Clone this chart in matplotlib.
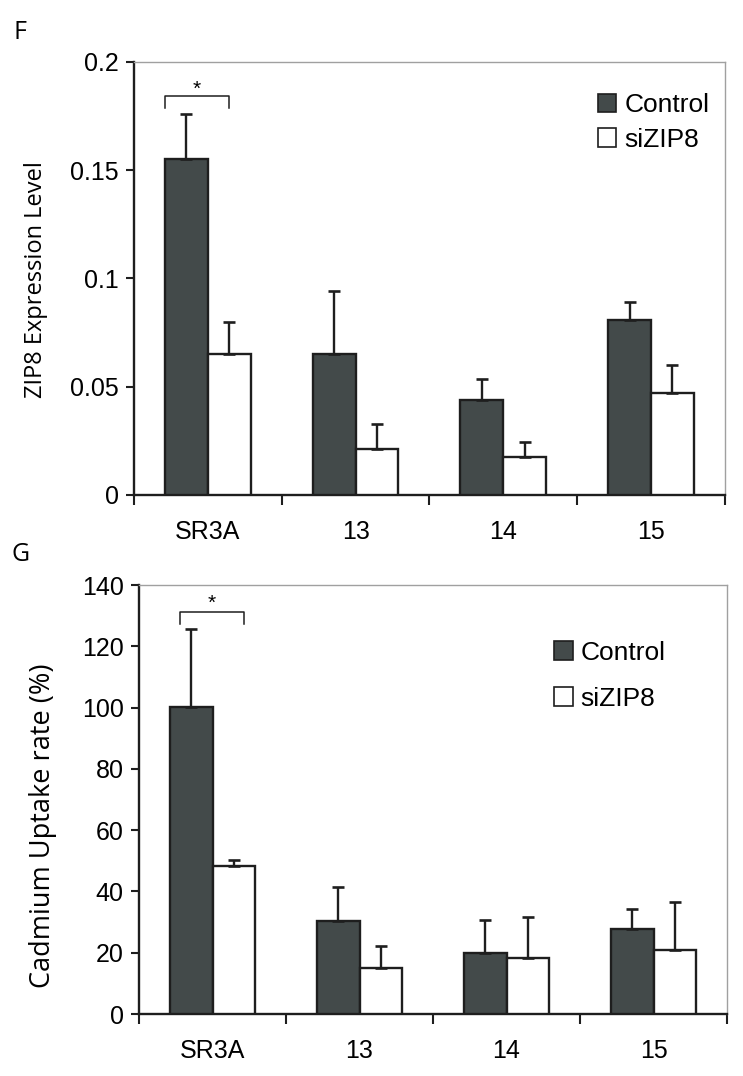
import matplotlib
matplotlib.use('Agg')
import matplotlib.pyplot as plt
from matplotlib.patches import Patch
import numpy as np

# data
categories = ['SR3A', '13', '14', '15']
series = ['Control', 'siZIP8']

zip8_control = [0.155, 0.065, 0.044, 0.081]
zip8_control_err = [0.021, 0.029, 0.0095, 0.008]
zip8_si = [0.065, 0.021, 0.0176, 0.047]
zip8_si_err = [0.015, 0.012, 0.007, 0.013]
zip8_ticks = [0, 0.05, 0.1, 0.15, 0.2]
zip8_ticklabels = ['0', '0.05', '0.1', '0.15', '0.2']

cd_control = [100.2, 30.4, 19.9, 27.6]
cd_control_err = [25.3, 11.1, 10.8, 6.6]
cd_si = [48.3, 14.9, 18.4, 20.8]
cd_si_err = [2.0, 7.3, 13.4, 15.6]
cd_ticks = [0, 20, 40, 60, 80, 100, 120, 140]

DARK = '#434a4a'
EDGE = '#1e1e1e'
TICK_FONT = 'Liberation Sans'
LABEL_FONT = 'Open Sans'
BAR_W = 0.29


def draw_panel(ax, ctrl, ctrl_err, si, si_err, ylim, yticks, yticklabels, ylabel, ylabel_size, ylabel_pos):
    x = np.arange(len(categories))
    err_kw = dict(ecolor=EDGE, elinewidth=1.7, capsize=4.2, capthick=1.9)
    ax.bar(x - BAR_W / 2, ctrl, BAR_W, color=DARK, edgecolor=EDGE, linewidth=1.7,
           yerr=[np.zeros(len(ctrl)), ctrl_err], error_kw=err_kw, label=series[0], zorder=3)
    ax.bar(x + BAR_W / 2, si, BAR_W, color='white', edgecolor=EDGE, linewidth=1.7,
           yerr=[np.zeros(len(si)), si_err], error_kw=err_kw, label=series[1], zorder=3)
    ax.set_xlim(-0.5, len(categories) - 0.5)
    ax.set_ylim(*ylim)
    ax.set_yticks(yticks)
    ax.set_yticklabels(yticklabels, fontsize=18, family=TICK_FONT)
    ax.set_xticks(np.arange(len(categories) + 1) - 0.5)
    ax.set_xticklabels([])
    ax.set_xticks(x, minor=True)
    ax.set_xticklabels(categories, minor=True, fontsize=18, family=TICK_FONT)
    ax.tick_params(axis='x', which='major', direction='out', length=7, width=1.5, color=EDGE)
    ax.tick_params(axis='x', which='minor', length=0, pad=18)
    ax.tick_params(axis='y', direction='out', length=6, width=1.5, color=EDGE, pad=5)
    for s in ['left', 'bottom']:
        ax.spines[s].set_color(EDGE)
        ax.spines[s].set_linewidth(1.7)
    for s in ['top', 'right']:
        ax.spines[s].set_color('#a0a0a0')
        ax.spines[s].set_linewidth(1.0)
    ax.set_ylabel(ylabel, fontsize=ylabel_size, family=LABEL_FONT)
    ax.yaxis.set_label_coords(*ylabel_pos)
    ax.yaxis.label.set_va('center')


def bracket(ax, x0, x1, y, drop, star_y):
    ax.plot([x0, x0, x1, x1], [y - drop, y, y, y - drop], color=EDGE, lw=1.1)
    ax.text((x0 + x1) / 2, star_y, '*', ha='center', va='center', fontsize=15, family=TICK_FONT)


fig = plt.figure(figsize=(7.43, 10.76), dpi=100)

# panel F
axf = fig.add_axes([0.1803, 0.5400, 0.7954, 0.4024])
draw_panel(axf, zip8_control, zip8_control_err, zip8_si, zip8_si_err,
           (0, 0.2), zip8_ticks, zip8_ticklabels, 'ZIP8 Expression Level', 17, (-0.165, 0.497))
bracket(axf, -0.29, 0.145, 0.1843, 0.0055, 0.1875)
handles = [Patch(facecolor=DARK, edgecolor=EDGE, lw=1.2), Patch(facecolor='white', edgecolor=EDGE, lw=1.2)]
axf.legend(handles, series, loc='upper left', bbox_to_anchor=(0.767, 0.952), frameon=False,
           prop={'family': TICK_FONT, 'size': 19}, handlelength=0.7, handleheight=0.7,
           handletextpad=0.3, labelspacing=0.4, borderaxespad=0)
fig.text(0.0175, 0.970, 'F', fontsize=18, family=LABEL_FONT, va='center')

# panel G
axg = fig.add_axes([0.1871, 0.0576, 0.7914, 0.3987])
draw_panel(axg, cd_control, cd_control_err, cd_si, cd_si_err,
           (0, 140), cd_ticks, [str(t) for t in cd_ticks], 'Cadmium Uptake rate (%)', 19.5, (-0.163, 0.44))
bracket(axg, -0.22, 0.214, 131.1, 3.8, 134.0)
axg.legend(handles, series, loc='upper left', bbox_to_anchor=(0.688, 0.895), frameon=False,
           prop={'family': TICK_FONT, 'size': 19}, handlelength=0.7, handleheight=0.7,
           handletextpad=0.3, labelspacing=0.83, borderaxespad=0)
fig.text(0.0155, 0.485, 'G', fontsize=18, family=LABEL_FONT, va='center')

fig.savefig('out.png', dpi=100, facecolor='white')
